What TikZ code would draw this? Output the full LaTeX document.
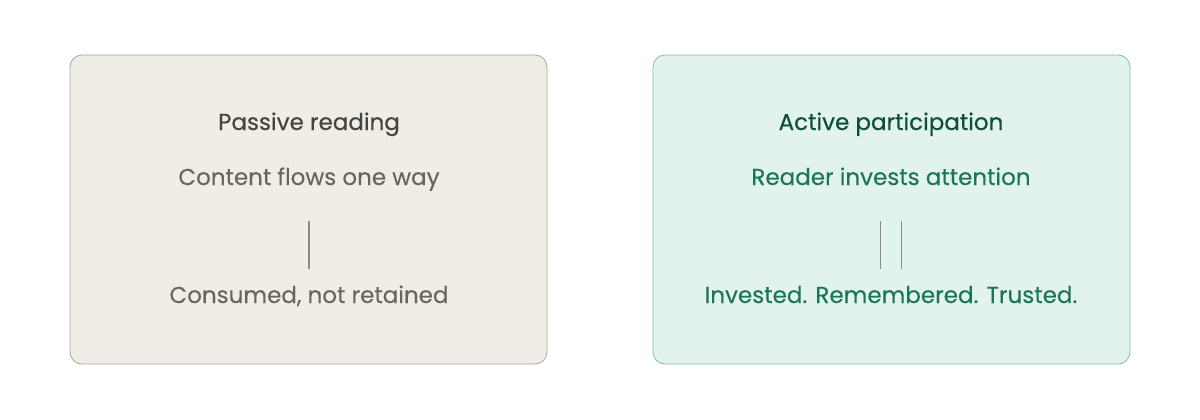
\documentclass[tikz,border=0pt]{standalone}
\usepackage{fontspec}
\setmainfont{Poppins}
\definecolor{lfill}{HTML}{F0EDE7}
\definecolor{ldraw}{HTML}{A9A59D}
\definecolor{ltitle}{HTML}{464641}
\definecolor{ltext}{HTML}{66655F}
\definecolor{lline}{HTML}{8C8A84}
\definecolor{rfill}{HTML}{E1F3EC}
\definecolor{rdraw}{HTML}{7FC0A4}
\definecolor{rtitle}{HTML}{0E4F3B}
\definecolor{rtext}{HTML}{1B7656}
\begin{document}
\begin{tikzpicture}[x=1pt,y=-1pt,
  panel/.style={rounded corners=12pt,line width=0.8pt},
  ttl/.style={anchor=base,font=\fontsize{23}{27}\selectfont\addfontfeature{FakeBold=0.4}},
  txt/.style={anchor=base,font=\fontsize{23}{27}\selectfont\addfontfeature{FakeBold=0.15}},
  bar/.style={line width=1.3pt,line cap=butt}]
\useasboundingbox (0,0) rectangle (1200,420);
\draw[panel,fill=lfill,draw=ldraw] (70,55) rectangle (547,364);
\draw[panel,fill=rfill,draw=rdraw] (653,55) rectangle (1130,364);
\node[ttl,text=ltitle] (lt) at (309,130) {Passive reading};
\node[txt,text=ltext] (l1) at (309,185) {Content flows one way};
\node[txt,text=ltext] (l2) at (309,303) {Consumed, not retained};
\coordinate (la) at (309,221);
\coordinate (lb) at (309,269);
\draw[bar,draw=lline] (la) -- (lb);
\node[ttl,text=rtitle] (rt) at (891,130) {Active participation};
\node[txt,text=rtext] (r1) at (891,185) {Reader invests attention};
\node[txt,text=rtext] (r2) at (891,303) {Invested. Remembered. Trusted.};
\coordinate (ra1) at (880.7,221);
\coordinate (rb1) at (880.7,269);
\coordinate (ra2) at (901.7,221);
\coordinate (rb2) at (901.7,269);
\draw[bar,draw=lline] (ra1) -- (rb1);
\draw[bar,draw=lline] (ra2) -- (rb2);
\end{tikzpicture}
\end{document}
